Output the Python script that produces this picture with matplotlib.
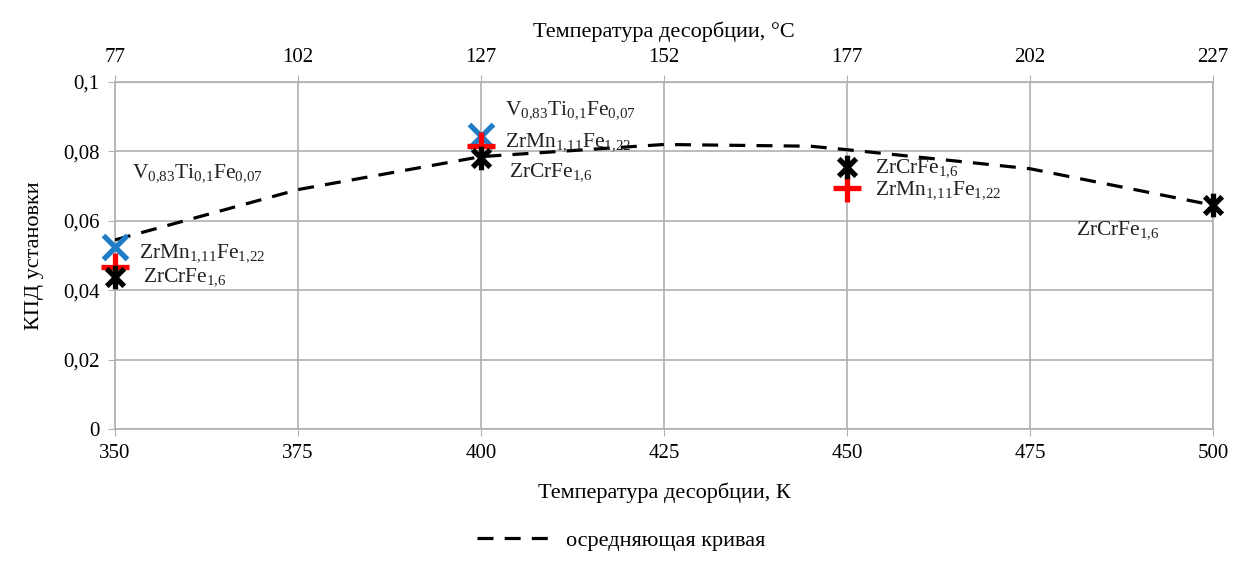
import numpy as np
import matplotlib.pyplot as plt
from matplotlib.path import Path
from matplotlib.ticker import FuncFormatter, MultipleLocator

plt.rcParams['font.family'] = ['Liberation Serif', 'DejaVu Serif']
plt.rcParams['mathtext.fontset'] = 'custom'
plt.rcParams['mathtext.rm'] = 'Liberation Serif'
plt.rcParams['mathtext.it'] = 'Liberation Serif'

# data
temp_K = [350, 400, 450, 500]
vti = [0.0525, 0.0845, None, None]        # V0,83Ti0,1Fe0,07 (blue x)
zrmn = [0.0468, 0.0815, 0.0695, None]     # ZrMn1,11Fe1,22 (red +)
zrcr = [0.0437, 0.0782, 0.0755, 0.0645]   # ZrCrFe1,6 (black star)

curve_x = [350, 375, 400, 425, 445, 450, 475, 500]
curve_y = [0.0545, 0.0690, 0.0785, 0.0820, 0.0815, 0.0805, 0.0750, 0.0645]

# labels: text, x, y
V_LBL = r'$\mathrm{V_{0{,}83}Ti_{0{,}1}Fe_{0{,}07}}$'
MN_LBL = r'$\mathrm{ZrMn_{1{,}11}Fe_{1{,}22}}$'
CR_LBL = r'$\mathrm{ZrCrFe_{1{,}6}}$'
labels = [
    (V_LBL, 352.3, 0.0738),
    (MN_LBL, 353.3, 0.0507),
    (CR_LBL, 353.8, 0.0438),
    (V_LBL, 403.3, 0.0920),
    (MN_LBL, 403.3, 0.0826),
    (CR_LBL, 403.8, 0.0740),
    (CR_LBL, 453.8, 0.0752),
    (MN_LBL, 453.8, 0.0688),
    (CR_LBL, 481.3, 0.0573),
]

# star marker like in excel: x plus vertical line
star = Path([(-1, -1), (1, 1), (-1, 1), (1, -1), (0, -1.35), (0, 1.35)],
            [Path.MOVETO, Path.LINETO, Path.MOVETO, Path.LINETO, Path.MOVETO, Path.LINETO])

fig = plt.figure(figsize=(12.43, 5.68), dpi=100)
ax = fig.add_axes([0.0925, 0.2447, 0.8835, 0.6109])

ax.plot(curve_x, curve_y, color='black', linestyle=(0, (5, 3.5)), linewidth=2.3,
        label='осредняющая кривая', zorder=3)

def pts(vals):
    xs = [x for x, v in zip(temp_K, vals) if v is not None]
    ys = [v for v in vals if v is not None]
    return xs, ys

ax.plot(*pts(vti), linestyle='none', marker='x', markersize=17, mew=3.8,
        color='#1f7dc8', zorder=4, clip_on=False)
ax.plot(*pts(zrmn), linestyle='none', marker='+', markersize=20, mew=3.8,
        color='#ff0000', zorder=5, clip_on=False)
ax.plot(*pts(zrcr), linestyle='none', marker=star, markersize=17, mew=3.8,
        color='black', zorder=6, clip_on=False)

for txt, x, y in labels:
    ax.text(x, y, txt, fontsize=15.5, va='center', ha='left', color='#222222', zorder=7)

ax.set_xlim(350, 500)
ax.set_ylim(0, 0.1)
ax.xaxis.set_major_locator(MultipleLocator(25))
ax.yaxis.set_major_locator(MultipleLocator(0.02))

def comma_fmt(v, pos):
    if abs(v) < 1e-9:
        return '0'
    return ('%.2f' % v).rstrip('0').replace('.', ',')

ax.yaxis.set_major_formatter(FuncFormatter(comma_fmt))
ax.grid(True, color='#b0b0b0', linewidth=1.2)
ax.set_axisbelow(True)
for s in ax.spines.values():
    s.set_color('#b0b0b0')
    s.set_linewidth(1.2)
ax.tick_params(axis='both', labelsize=15, color='#b0b0b0', length=5, pad=6)

ax.set_xlabel('Температура десорбции, К', fontsize=16, labelpad=14)
ax.set_ylabel('КПД установки', fontsize=16, labelpad=14)

top = ax.secondary_xaxis('top', functions=(lambda k: k - 273, lambda c: c + 273))
top.set_xticks([77, 102, 127, 152, 177, 202, 227])
top.tick_params(labelsize=15, color='#b0b0b0', length=5, pad=6)
top.spines['top'].set_color('#b0b0b0')
top.set_xlabel('Температура десорбции, °С', fontsize=16, labelpad=8)

fig.legend(loc='lower center', bbox_to_anchor=(0.5, -0.005), frameon=False,
           fontsize=16, handlelength=3.2)

fig.savefig('out.png', dpi=100)
